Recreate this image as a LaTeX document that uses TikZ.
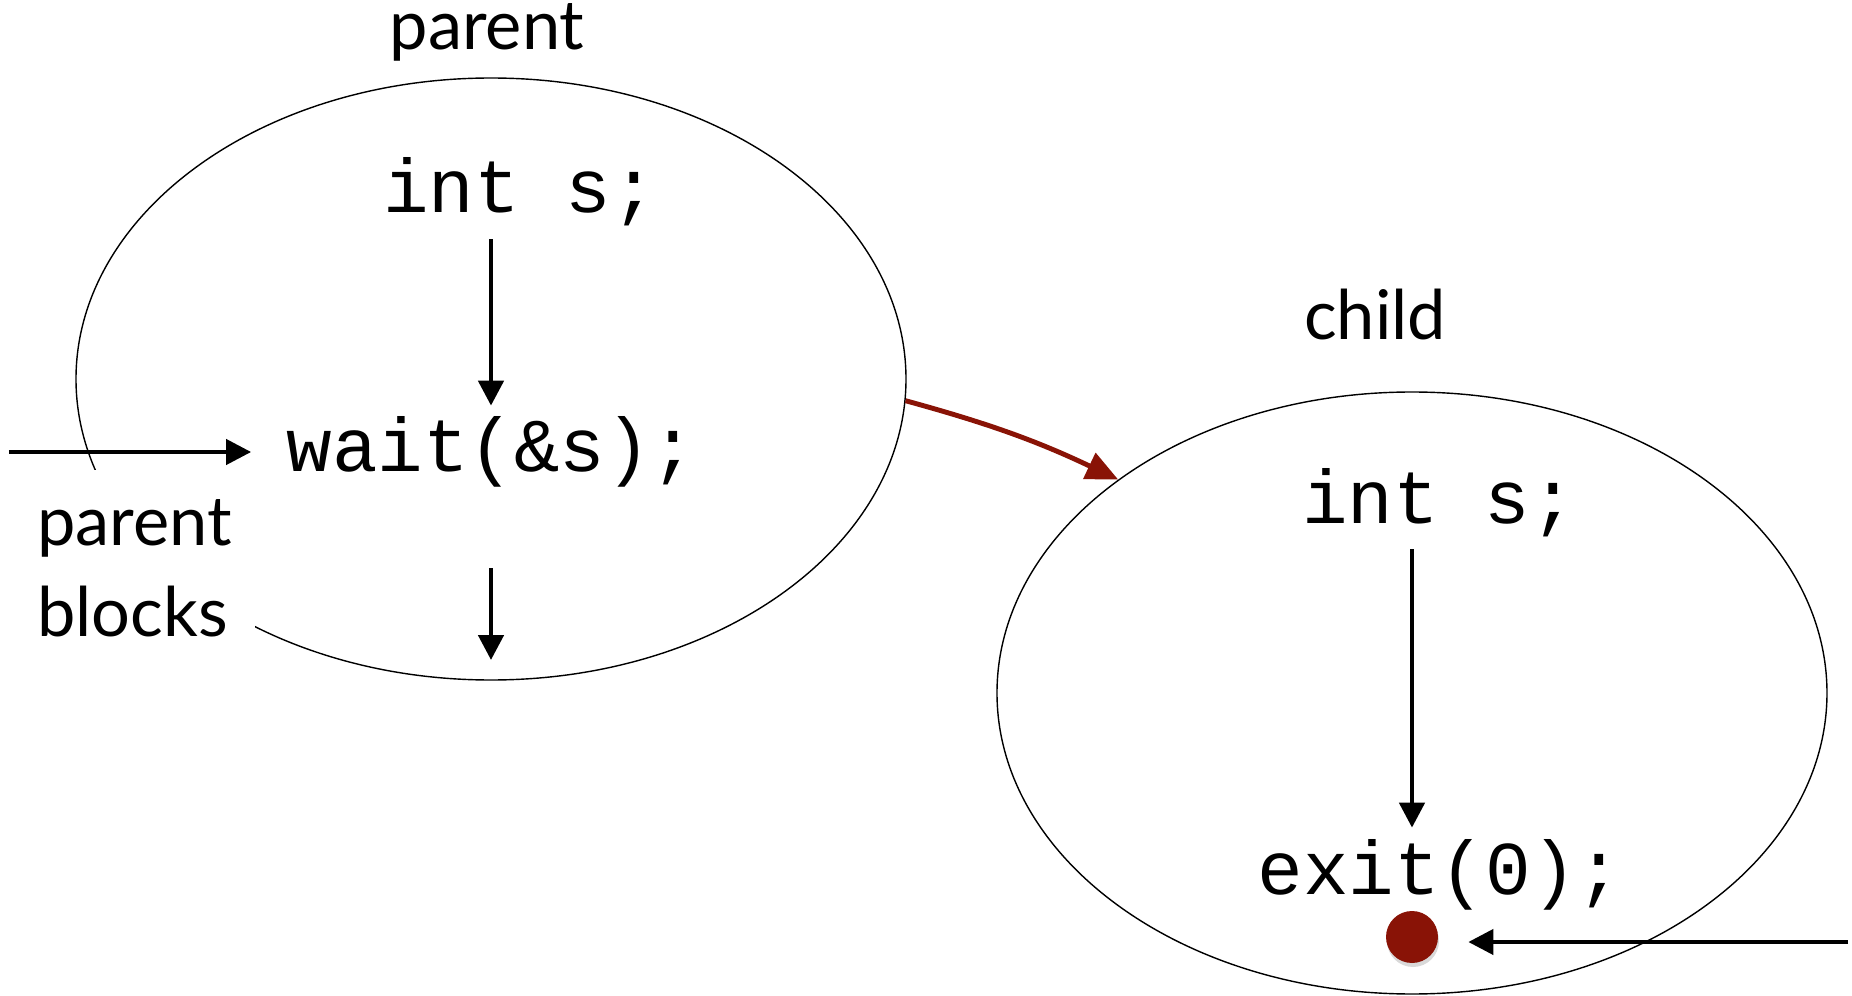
\documentclass[tikz,border=0pt]{standalone}
\usepackage{fontspec}
\setmainfont{Lato}
\setmonofont{Liberation Mono}
\usetikzlibrary{shapes.geometric, arrows.meta, shadows}

\definecolor{darkred}{RGB}{137,19,6}

\begin{document}
\begin{tikzpicture}[->, >={Triangle[length=0.25cm, width=0.25cm]}, line width=1.35pt,
  proc/.style={ellipse, draw, thin, minimum width=8.3cm, minimum height=6.02cm},
  code/.style={font=\ttfamily\fontsize{21.6}{26}\selectfont, anchor=base, inner sep=0pt, text height=0.64cm, text depth=0.24cm},
  caption/.style={font=\fontsize{19.5}{25.9}\selectfont, anchor=base}]
\useasboundingbox (0,0) rectangle (18.52,9.95);
% the two processes
\node[proc] at (4.91,6.16) (parent) {};
\node[proc] at (14.12,3.02) (child) {};
\node[caption] at (4.87,9.45) (parentname) {parent};
\node[caption] at (13.75,6.55) (childname) {child};
\node[caption, anchor=north west, align=left, fill=white, inner xsep=0.23cm, inner ysep=0.29cm] at (0.12,5.27) (blocks) {parent\\blocks};
% code lines
\node[code] at (5.20,7.82) (pint) {int s;};
\node[code] at (4.915,5.23) (wait) {wait(\&s);};
\node[code] at (14.39,4.72) (cint) {int s;};
\node[code] at (14.40,1.01) (exit) {exit(0);};
\node[circle, fill=darkred, minimum size=0.52cm, inner sep=0pt, drop shadow={opacity=0.3, shadow xshift=0.01cm, shadow yshift=-0.04cm}] at (14.12,0.58) (dot) {};
\coordinate (blockin) at (0.09,5.43);
\coordinate (waitout) at (4.91,3.35);
\coordinate (exitin) at (18.48,0.53);
% arrows
\draw (pint.south -| parent.center) -- (wait.north -| parent.center);
\draw[shorten <=0.7cm] (wait.south -| parent.center) -- (waitout);
\draw[line width=1.2pt, shorten >=0.33cm] (blockin) -- (wait.west);
\draw[darkred, line width=1.4pt, >={Triangle[length=0.32cm, width=0.28cm]}] (parent.-3.3) to[bend left=5] (child.144.5);
\draw (cint.south -| child.center) -- (exit.north -| child.center);
\draw[line width=1.2pt, shorten >=0.28cm] (exitin) -- (exitin -| dot.east);
\end{tikzpicture}
\end{document}
